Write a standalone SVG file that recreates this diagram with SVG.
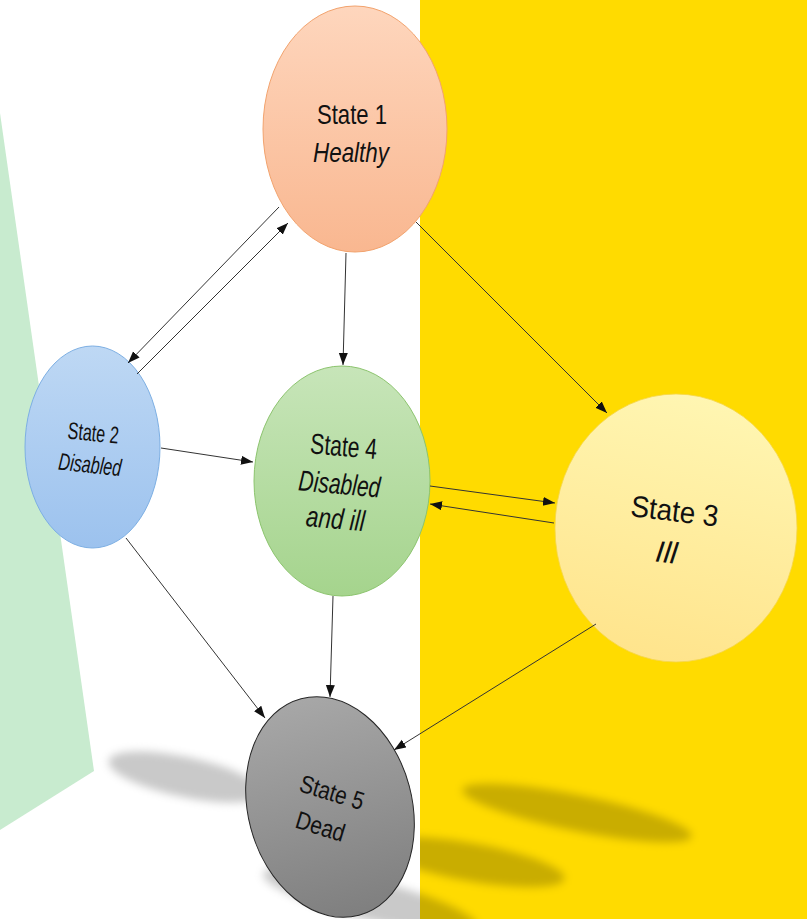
<svg xmlns="http://www.w3.org/2000/svg" width="807" height="919" viewBox="0 0 807 919">
  <style>
    .lbl { font-family: "Liberation Sans", Arial, sans-serif; fill: #111; text-anchor: middle; }
    .it { font-style: italic; }
    .conn { stroke: #333; stroke-width: 1; fill: none; marker-end: url(#arrow); }
    .shadow { fill: #000; fill-opacity: 0.21; filter: url(#blur); }
  </style>
  <defs>
    <marker id="arrow" markerUnits="userSpaceOnUse" markerWidth="13" markerHeight="10" refX="12" refY="4.5" orient="auto">
      <path d="M0,0 L12,4.5 L0,9 z" fill="#111"/>
    </marker>
    <filter id="blur" x="-30%" y="-100%" width="160%" height="300%">
      <feGaussianBlur stdDeviation="4.5"/>
    </filter>
    <clipPath id="yellowClip"><rect x="420" y="0" width="387" height="919"/></clipPath>
    <linearGradient id="g1" x1="0" y1="0" x2="0" y2="1">
      <stop offset="0" stop-color="#FED6BD"/>
      <stop offset="1" stop-color="#F9B790"/>
    </linearGradient>
    <linearGradient id="g2" x1="0" y1="0" x2="0" y2="1">
      <stop offset="0" stop-color="#BED8F4"/>
      <stop offset="1" stop-color="#9CC2EE"/>
    </linearGradient>
    <linearGradient id="g4" x1="0" y1="0" x2="0" y2="1">
      <stop offset="0" stop-color="#C7E5B9"/>
      <stop offset="1" stop-color="#A5D48D"/>
    </linearGradient>
    <linearGradient id="g3" x1="0.6" y1="0" x2="0.4" y2="1">
      <stop offset="0" stop-color="#FFF6B2"/>
      <stop offset="1" stop-color="#FFE48C"/>
    </linearGradient>
    <linearGradient id="g5" x1="0" y1="0" x2="0" y2="1">
      <stop offset="0" stop-color="#A7A7A7"/>
      <stop offset="1" stop-color="#7F7F7F"/>
    </linearGradient>
  </defs>

  <!-- background -->
  <rect x="0" y="0" width="807" height="919" fill="#FFFFFF"/>
  <rect x="420" y="0" width="387" height="919" fill="#FFDB00"/>
  <polygon points="0,113 94,771 0,830" fill="#C8EBCF"/>

  <!-- shadows -->
  <g id="shadows">
    <ellipse class="shadow" cx="185" cy="777" rx="78" ry="20" transform="rotate(12 185 777)"/>
    <ellipse class="shadow" cx="577" cy="813" rx="117" ry="18" transform="rotate(11.5 577 813)"/>
    <g clip-path="url(#yellowClip)">
      <ellipse class="shadow" cx="470" cy="862" rx="96" ry="19" transform="rotate(10 470 862)"/>
    </g>
    <ellipse class="shadow" cx="370" cy="900" rx="110" ry="20" transform="rotate(14 370 900)"/>
  </g>

  <!-- nodes -->
  <g id="s1">
    <ellipse cx="355" cy="129" rx="92" ry="123" fill="url(#g1)" stroke="#F2A36E" stroke-width="1"/>
    <text class="lbl" x="352" y="124" font-size="28" textLength="70" lengthAdjust="spacingAndGlyphs">State 1</text>
    <text class="lbl it" x="351" y="162" font-size="28" textLength="76" lengthAdjust="spacingAndGlyphs">Healthy</text>
  </g>
  <g id="s2">
    <ellipse cx="92.5" cy="447" rx="67.5" ry="101" fill="url(#g2)" stroke="#7DAFE3" stroke-width="1"/>
    <g transform="rotate(6 91 455)">
      <text class="lbl" x="91" y="441" font-size="24" textLength="51" lengthAdjust="spacingAndGlyphs">State 2</text>
      <text class="lbl it" x="91" y="473" font-size="24" textLength="63" lengthAdjust="spacingAndGlyphs">Disabled</text>
    </g>
  </g>
  <g id="s4">
    <ellipse cx="342" cy="481" rx="88" ry="115" fill="url(#g4)" stroke="#8CC46E" stroke-width="1"/>
    <g transform="rotate(5 340 490)">
      <text class="lbl" x="340" y="456" font-size="29" textLength="67" lengthAdjust="spacingAndGlyphs">State 4</text>
      <text class="lbl it" x="339" y="494" font-size="29" textLength="82" lengthAdjust="spacingAndGlyphs">Disabled</text>
      <text class="lbl it" x="338" y="529" font-size="29" textLength="59" lengthAdjust="spacingAndGlyphs">and ill</text>
    </g>
  </g>
  <g id="s3">
    <ellipse cx="676" cy="528" rx="121" ry="134" fill="url(#g3)" stroke="#F5D64A" stroke-width="0.8"/>
    <g transform="rotate(7 670 540)">
      <text class="lbl" x="671" y="521" font-size="30" textLength="88" lengthAdjust="spacingAndGlyphs">State 3</text>
      <text class="lbl it" x="668" y="563" font-size="30">Ill</text>
    </g>
  </g>
  <g id="s5">
    <ellipse cx="330" cy="807" rx="82" ry="112" transform="rotate(-15 330 807)" fill="url(#g5)" stroke="#262626" stroke-width="1"/>
    <g transform="rotate(17 326 812)">
      <text class="lbl" x="326" y="800" font-size="25" textLength="66" lengthAdjust="spacingAndGlyphs">State 5</text>
      <text class="lbl" x="325" y="836" font-size="25" textLength="50" lengthAdjust="spacingAndGlyphs">Dead</text>
    </g>
  </g>

  <!-- connectors -->
  <g id="connectors">
    <path class="conn" d="M279,207 L128,363"/>
    <path class="conn" d="M137,374 L288,223"/>
    <path class="conn" d="M346,253 L343,365"/>
    <path class="conn" d="M416,222 L607,413"/>
    <path class="conn" d="M161,448 L253,462"/>
    <path class="conn" d="M430,486 L555,503"/>
    <path class="conn" d="M554,523 L430,504"/>
    <path class="conn" d="M126,538 L265,718"/>
    <path class="conn" d="M333,596 L330,697"/>
    <path class="conn" d="M596,624 L394,750"/>
  </g>
</svg>
